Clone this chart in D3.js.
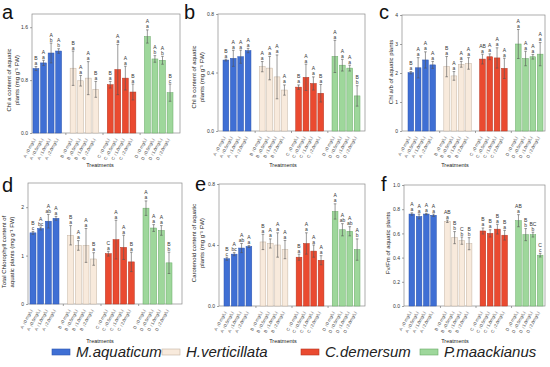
<!DOCTYPE html>
<html>
<head>
<meta charset="utf-8">
<script src="https://cdn.jsdelivr.net/npm/d3@7"></script>
<style>
body { margin: 0; background: #fff; }
text { font-family: "Liberation Sans", Arial, sans-serif; }
</style>
</head>
<body>
<svg id="chart" width="550" height="367"></svg>
<script>
// categories
var species = ["M.aquaticum", "H.verticillata", "C.demersum", "P.maackianus"];
var groups = ["A", "B", "C", "D"];
var doses = ["（0 mg/L）", "（0.5mg/L）", "（1.0mg/L）", "（2.0mg/L）"];
var fills = ["#3f6fd4", "#f8eadc", "#ea4a30", "#9ed79b"];
var strokes = ["#2d56b0", "#c4b3a2", "#b53520", "#6aaa68"];

// a: Chl a
var chlA    = [0.975, 1.06, 1.21, 1.24,  0.98, 0.79, 0.83, 0.66,  0.73, 0.96, 0.83, 0.62,  1.46, 1.12, 1.10, 0.61];
var chlAErr = [0.03, 0.04, 0.15, 0.035,  0.26, 0.08, 0.25, 0.12,  0.05, 0.38, 0.18, 0.12,  0.1, 0.05, 0.06, 0.13];
var chlAUp  = ["B","A","A","A", "B","A","A","B", "B","A","A","B", "A","A","A","B"];
var chlALow = ["a","a","b","b", "a","a","a","a", "a","a","a","a", "a","b","b","c"];

// b: Chl b
var chlB    = [0.485, 0.497, 0.508, 0.55,  0.44, 0.43, 0.37, 0.28,  0.30, 0.367, 0.325, 0.258,  0.51, 0.45, 0.43, 0.24];
var chlBErr = [0.006, 0.055, 0.045, 0.015,  0.035, 0.08, 0.15, 0.035,  0.015, 0.09, 0.045, 0.06,  0.11, 0.04, 0.02, 0.07];
var chlBUp  = ["B","A","A","A", "A","A","A","A", "B","A","A","B", "A","A","A","B"];
var chlBLow = ["a","a","a","a", "a","a","a","a", "a","a","a","a", "a","a","a","b"];

// c: Chl a/b
var chlAB    = [2.01, 2.18, 2.45, 2.28,  2.22, 1.9, 2.3, 2.33,  2.48, 2.56, 2.52, 2.16,  3.0, 2.5, 2.56, 2.65];
var chlABErr = [0.04, 0.35, 0.28, 0.12,  0.35, 0.15, 0.1, 0.2,  0.17, 0.1, 0.35, 0.35,  0.5, 0.25, 0.08, 0.4];
var chlABUp  = ["B","A","A","A", "B","A","A","A", "AB","A","A","A", "A","A","A","A"];
var chlABLow = ["a","a","a","a", "a","a","a","a", "a","a","a","a", "a","a","a","a"];

// d: total chlorophyll
var chlT    = [1.47, 1.56, 1.71, 1.77,  1.42, 1.21, 1.21, 0.93,  1.04, 1.33, 1.17, 0.87,  1.98, 1.57, 1.52, 0.85];
var chlTErr = [0.03, 0.03, 0.14, 0.04,  0.2, 0.1, 0.35, 0.13,  0.05, 0.4, 0.25, 0.2,  0.15, 0.07, 0.1, 0.22];
var chlTUp  = ["B","A","A","A", "B","A","A","B", "C","A","A","B", "A","A","A","B"];
var chlTLow = ["c","bc","ab","a", "a","a","a","a", "a","a","a","a", "a","a","a","b"];

// e: carotenoid
var car    = [0.31, 0.34, 0.38, 0.39,  0.42, 0.41, 0.40, 0.37,  0.32, 0.41, 0.36, 0.30,  0.62, 0.50, 0.49, 0.37];
var carErr = [0.01, 0.01, 0.03, 0.006,  0.05, 0.03, 0.08, 0.06,  0.02, 0.07, 0.04, 0.03,  0.05, 0.04, 0.03, 0.07];
var carUp  = ["B","A","A","A", "B","A","A","A", "B","A","A","A", "A","A","A","A"];
var carLow = ["c","bc","ab","a", "a","a","a","a", "a","a","a","a", "a","ab","ab","b"];

// f: Fv/Fm
var fvfm    = [0.76, 0.74, 0.76, 0.75,  0.70, 0.565, 0.54, 0.515,  0.62, 0.60, 0.635, 0.585,  0.705, 0.59, 0.59, 0.42];
var fvfmErr = [0.01, 0.02, 0.006, 0.01,  0.01, 0.05, 0.03, 0.05,  0.025, 0.03, 0.04, 0.04,  0.05, 0.05, 0.02, 0.015];
var fvfmUp  = ["A","A","A","A", "AB","B","C","B", "B","B","B","B", "AB","B","BC","C"];
var fvfmLow = ["a","a","a","a", "a","b","b","b", "a","a","a","a", "a","b","b","c"];

var panels = [
  { key: "a", vals: chlA, err: chlAErr, up: chlAUp, low: chlALow, max: 1.8, ticks: [0, 0.8, 1.6], fmt: ".1f",
    title: ["Chl a content of aquatic", "plants (mg g⁻¹ FW)"],
    fx0: 32, fx1: 180, fy0: 14, fy1: 133, bx0: 33, bx1: 173, lx: 2, ly: 19, tx: 11, ty: 80, trx: 100, try_: 167 },
  { key: "b", vals: chlB, err: chlBErr, up: chlBUp, low: chlBLow, max: 0.8, ticks: [0, 0.4, 0.8], fmt: ".1f",
    title: ["Chl b content of aquatic", "plants (mg g⁻¹ FW)"],
    fx0: 218, fx1: 365, fy0: 14, fy1: 131, bx0: 223, bx1: 360, lx: 184, ly: 19, tx: 196, ty: 77, trx: 283, try_: 167 },
  { key: "c", vals: chlAB, err: chlABErr, up: chlABUp, low: chlABLow, max: 4, ticks: [0, 1, 2, 3, 4], fmt: "d",
    title: ["Chl a/b of aquatic plants"],
    fx0: 402, fx1: 545, fy0: 15, fy1: 131, bx0: 408, bx1: 543, lx: 379, ly: 19, tx: 393, ty: 72, trx: 455, try_: 167 },
  { key: "d", vals: chlT, err: chlTErr, up: chlTUp, low: chlTLow, max: 2.5, ticks: [0, 1, 2], fmt: "d",
    title: ["Total Chlorophyll content of", "aquatic plants (mg g⁻¹ FW)"],
    fx0: 28, fx1: 182, fy0: 183, fy1: 304, bx0: 30, bx1: 172, lx: 2, ly: 192, tx: 6, ty: 252, trx: 100, try_: 343 },
  { key: "e", vals: car, err: carErr, up: carUp, low: carLow, max: 0.8, ticks: [0, 0.4, 0.8], fmt: ".1f",
    title: ["Carotenoid content of aquatic", "plants (mg g⁻¹ FW)"],
    fx0: 219, fx1: 365, fy0: 184, fy1: 306, bx0: 224, bx1: 360, lx: 195, ly: 191, tx: 196, ty: 243, trx: 283, try_: 343 },
  { key: "f", vals: fvfm, err: fvfmErr, up: fvfmUp, low: fvfmLow, max: 1.0, ticks: [0, 0.2, 0.4, 0.6, 0.8, 1.0], fmt: ".1f",
    title: ["Fv/Fm of aquatic plants"],
    fx0: 404, fx1: 545, fy0: 185, fy1: 306, bx0: 409, bx1: 543, lx: 381, ly: 191, tx: 390, ty: 243, trx: 455, try_: 343 }
];

var svg = d3.select("#chart");

panels.forEach(function (p) {
  var g = svg.append("g").attr("class", "panel-" + p.key);

  var y = d3.scaleLinear().domain([0, p.max]).range([p.fy1, p.fy0]);
  var xg = d3.scaleBand().domain(groups).range([p.bx0, p.bx1]).paddingInner(0.23).paddingOuter(0);
  var xb = d3.scaleBand().domain(d3.range(4)).range([0, xg.bandwidth()]).paddingInner(0.22);

  // frame
  g.append("rect")
    .attr("x", p.fx0).attr("y", p.fy0)
    .attr("width", p.fx1 - p.fx0).attr("height", p.fy1 - p.fy0)
    .attr("fill", "none").attr("stroke", "#8a8a8a").attr("stroke-width", 0.7);

  // y axis
  var yAxis = g.append("g")
    .attr("transform", "translate(" + p.fx0 + ",0)")
    .call(d3.axisLeft(y).tickValues(p.ticks).tickSize(2).tickPadding(2).tickFormat(d3.format(p.fmt)));
  yAxis.select(".domain").remove();
  yAxis.selectAll("line").attr("stroke", "#666").attr("stroke-width", 0.6);
  yAxis.selectAll("text").attr("font-size", 5).attr("fill", "#333").style("font-family", "Liberation Sans, Arial, sans-serif");

  // x separators
  var seps = [];
  for (var k = 1; k < groups.length; k++) {
    seps.push((xg(groups[k - 1]) + xg.bandwidth() + xg(groups[k])) / 2);
  }
  g.selectAll(".sep").data(seps).enter().append("line")
    .attr("x1", function (d) { return d; }).attr("x2", function (d) { return d; })
    .attr("y1", p.fy1).attr("y2", p.fy1 + 2)
    .attr("stroke", "#666").attr("stroke-width", 0.6);

  var items = p.vals.map(function (v, i) {
    var gi = Math.floor(i / 4), bi = i % 4;
    return { v: v, e: p.err[i], up: p.up[i], low: p.low[i], gi: gi, bi: bi,
             cx: xg(groups[gi]) + xb(bi) + xb.bandwidth() / 2 };
  });

  // bars
  g.selectAll(".bar").data(items).enter().append("rect")
    .attr("x", function (d) { return d.cx - xb.bandwidth() / 2; })
    .attr("y", function (d) { return y(d.v); })
    .attr("width", xb.bandwidth())
    .attr("height", function (d) { return y(0) - y(d.v); })
    .attr("fill", function (d) { return fills[d.gi]; })
    .attr("stroke", function (d) { return strokes[d.gi]; })
    .attr("stroke-width", 0.5);

  // error bars
  var eb = g.selectAll(".err").data(items).enter().append("g").attr("stroke", "#555").attr("stroke-width", 0.6);
  eb.append("line")
    .attr("x1", function (d) { return d.cx; }).attr("x2", function (d) { return d.cx; })
    .attr("y1", function (d) { return y(d.v - d.e); }).attr("y2", function (d) { return y(d.v + d.e); });
  eb.append("line")
    .attr("x1", function (d) { return d.cx - 1.3; }).attr("x2", function (d) { return d.cx + 1.3; })
    .attr("y1", function (d) { return y(d.v + d.e); }).attr("y2", function (d) { return y(d.v + d.e); });
  eb.append("line")
    .attr("x1", function (d) { return d.cx - 1.3; }).attr("x2", function (d) { return d.cx + 1.3; })
    .attr("y1", function (d) { return y(d.v - d.e); }).attr("y2", function (d) { return y(d.v - d.e); });

  // significance letters
  g.selectAll(".low").data(items).enter().append("text")
    .attr("x", function (d) { return d.cx; })
    .attr("y", function (d) { return y(d.v + d.e) - 1.5; })
    .attr("text-anchor", "middle").attr("font-size", 5).attr("fill", "#333")
    .text(function (d) { return d.low; });
  g.selectAll(".up").data(items).enter().append("text")
    .attr("x", function (d) { return d.cx; })
    .attr("y", function (d) { return y(d.v + d.e) - 6.5; })
    .attr("text-anchor", "middle").attr("font-size", 5).attr("fill", "#333")
    .text(function (d) { return d.up; });

  // x tick labels
  g.selectAll(".xl").data(items).enter().append("text")
    .attr("transform", function (d) { return "translate(" + (d.cx + 1) + "," + (p.fy1 + 4) + ") rotate(-62)"; })
    .attr("text-anchor", "end").attr("font-size", 4.3).attr("fill", "#444")
    .text(function (d) { return groups[d.gi] + doses[d.bi]; });

  // axis titles
  g.append("text")
    .attr("x", p.trx).attr("y", p.try_)
    .attr("text-anchor", "middle").attr("font-size", 5.5).attr("fill", "#222")
    .text("Treatments");

  var t = g.append("text")
    .attr("transform", "translate(" + p.tx + "," + p.ty + ") rotate(-90)")
    .attr("text-anchor", "middle").attr("font-size", 6).attr("fill", "#222");
  p.title.forEach(function (line, i) {
    t.append("tspan").attr("x", 0).attr("dy", i === 0 ? 0 : 7.5).text(line);
  });

  // panel letter
  g.append("text")
    .attr("x", p.lx).attr("y", p.ly)
    .attr("font-size", 20).attr("fill", "#111")
    .text(p.key);
});

// legend
var legX = [52, 162, 301, 420];
var leg = svg.append("g").attr("class", "legend");
leg.selectAll("rect").data(species).enter().append("rect")
  .attr("x", function (d, i) { return legX[i]; }).attr("y", 349)
  .attr("width", 18).attr("height", 6)
  .attr("fill", function (d, i) { return fills[i]; })
  .attr("stroke", function (d, i) { return strokes[i]; })
  .attr("stroke-width", 0.6);
leg.selectAll("text").data(species).enter().append("text")
  .attr("x", function (d, i) { return legX[i] + 24; }).attr("y", 357)
  .attr("font-size", 15).attr("font-style", "italic").attr("fill", "#222")
  .text(function (d) { return d; });
</script>
</body>
</html>
